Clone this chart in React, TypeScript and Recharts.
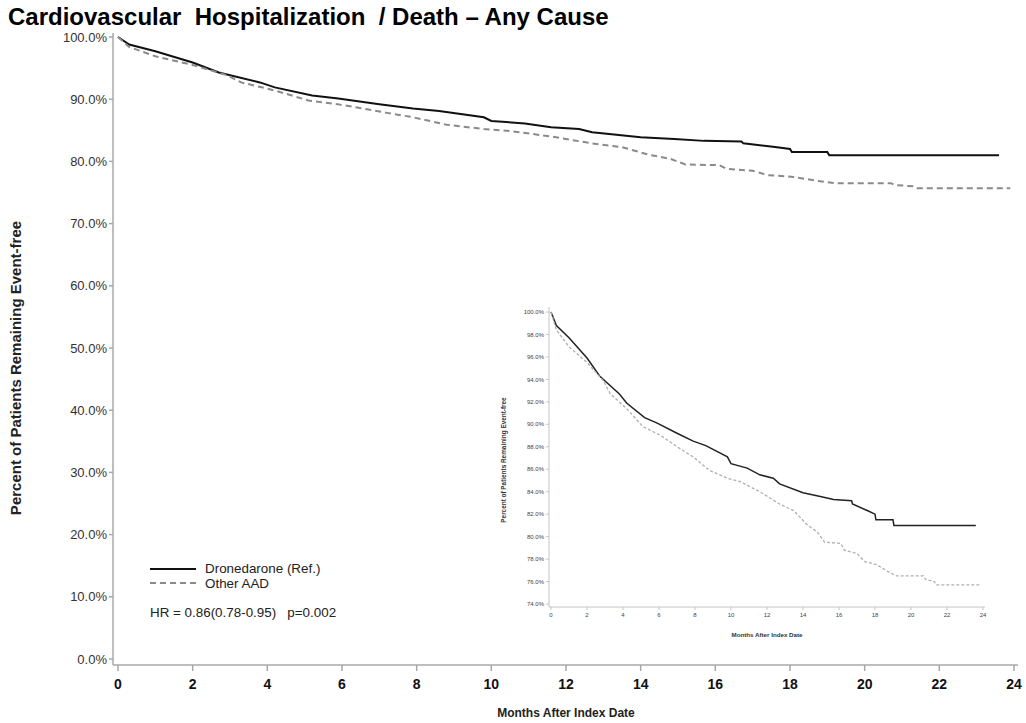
import React from "react";
import { LineChart, Line, XAxis, YAxis } from "recharts";

// Kaplan-Meier readings (months after index date, % event-free)
const dronMonths = [0, 0.3, 1.0, 2.0, 2.7, 3.8, 4.2, 5.2, 5.9, 7.0, 7.9, 8.6, 9.8, 10.0, 10.9, 11.6, 12.35, 12.7, 14.0, 14.9, 15.7, 16.7, 16.75, 17.6, 18.0, 18.05, 19.0, 19.05, 23.6];
const dronPct = [100, 98.8, 97.7, 95.9, 94.3, 92.7, 91.9, 90.6, 90.1, 89.2, 88.5, 88.1, 87.1, 86.5, 86.1, 85.5, 85.2, 84.7, 83.9, 83.6, 83.3, 83.2, 82.9, 82.3, 82.0, 81.5, 81.5, 81.0, 81.0];

const otherMonths = [0, 0.3, 1.0, 2.0, 2.9, 3.3, 4.2, 5.1, 6.1, 7.2, 7.9, 8.8, 9.8, 10.5, 11.6, 12.7, 13.5, 14.2, 14.8, 15.2, 16.1, 16.3, 17.0, 17.4, 18.1, 18.7, 19.2, 20.7, 20.8, 21.3, 21.4, 23.9];
const otherPct = [100, 98.4, 96.9, 95.5, 93.9, 92.7, 91.4, 89.8, 89.0, 87.8, 87.1, 85.9, 85.2, 84.9, 84.0, 82.9, 82.3, 81.1, 80.4, 79.5, 79.4, 78.8, 78.5, 77.8, 77.5, 76.9, 76.5, 76.5, 76.2, 76.0, 75.7, 75.7];

const monthTicks = [0, 2, 4, 6, 8, 10, 12, 14, 16, 18, 20, 22, 24];
const mainPctTicks = [0, 10, 20, 30, 40, 50, 60, 70, 80, 90, 100];
const insetPctTicks = [74, 76, 78, 80, 82, 84, 86, 88, 90, 92, 94, 96, 98, 100];

const toRows = (ms: number[], ps: number[]) => ms.map((m, i) => ({ m, v: ps[i] }));
const dronData = toRows(dronMonths, dronPct);
const otherData = toRows(otherMonths, otherPct);

const FONT = "'Liberation Sans', Arial, sans-serif";
const FRAME = "#a8a8a8";
const pct = (v: number) => `${v.toFixed(1)}%`;

function MainChart() {
  return (
    <LineChart
      width={1026}
      height={723}
      margin={{ top: 33, right: 8, bottom: 18, left: 53 }}
      style={{ position: "absolute", left: 0, top: 0 }}
    >
      <XAxis
        dataKey="m"
        type="number"
        domain={[0, 24]}
        ticks={monthTicks}
        padding={{ left: 5, right: 4 }}
        height={40}
        stroke={FRAME}
        strokeWidth={1.5}
        tickSize={6}
        tickMargin={8}
        tick={{ fill: "#111", fontSize: 14, fontWeight: 700, fontFamily: FONT }}
      />
      <XAxis xAxisId="top" orientation="top" type="number" domain={[0, 24]} height={0} tick={false} tickLine={false} stroke={FRAME} strokeWidth={1.5} />
      <YAxis
        type="number"
        domain={[0, 100]}
        ticks={mainPctTicks}
        padding={{ top: 4, bottom: 6 }}
        width={60}
        stroke={FRAME}
        strokeWidth={1.5}
        tickSize={4}
        tickMargin={2}
        tickFormatter={pct}
        tick={{ fill: "#333", fontSize: 13, fontFamily: FONT }}
      />
      <YAxis yAxisId="right" orientation="right" type="number" domain={[0, 100]} width={0} tick={false} tickLine={false} stroke={FRAME} strokeWidth={1.5} />
      <Line data={dronData} dataKey="v" type="linear" stroke="#111" strokeWidth={2} dot={false} isAnimationActive={false} />
      <Line data={otherData} dataKey="v" type="linear" stroke="#8a8a8a" strokeWidth={2} strokeDasharray="6 4" dot={false} isAnimationActive={false} />
    </LineChart>
  );
}

function InsetChart() {
  // frame: left 549, top 307, right 985, bottom 612
  return (
    <LineChart
      width={510}
      height={345}
      margin={{ top: 12, right: 15, bottom: 13, left: 19 }}
      style={{ position: "absolute", left: 490, top: 295 }}
    >
      <XAxis
        dataKey="m"
        type="number"
        domain={[0, 24]}
        ticks={monthTicks}
        padding={{ left: 2, right: 2 }}
        height={20}
        stroke="#c4c4c4"
        tickSize={3}
        tickMargin={3}
        tick={{ fill: "#444", fontSize: 6, fontFamily: FONT }}
      />
      <XAxis xAxisId="top" orientation="top" type="number" domain={[0, 24]} height={0} tick={false} tickLine={false} stroke="#d0d0d0" />
      <YAxis
        type="number"
        domain={[74, 100]}
        ticks={insetPctTicks}
        padding={{ top: 5, bottom: 3 }}
        width={40}
        stroke="#c4c4c4"
        tickSize={3}
        tickMargin={2}
        tickFormatter={pct}
        tick={{ fill: "#444", fontSize: 6, fontFamily: FONT }}
      />
      <YAxis yAxisId="right" orientation="right" type="number" domain={[74, 100]} width={0} tick={false} tickLine={false} stroke="#c4c4c4" />
      <Line data={dronData} dataKey="v" type="linear" stroke="#222" strokeWidth={1.5} dot={false} isAnimationActive={false} />
      <Line data={otherData} dataKey="v" type="linear" stroke="#b0b0b0" strokeWidth={1.3} strokeDasharray="3 2" dot={false} isAnimationActive={false} />
    </LineChart>
  );
}

export default function App() {
  return (
    <div style={{ position: "absolute", left: 0, top: 0, width: 1026, height: 723, background: "#fff", fontFamily: FONT, overflow: "hidden" }}>
      <div style={{ position: "absolute", left: 8, top: 3, fontSize: 24, lineHeight: "28px", fontWeight: 700, color: "#000", whiteSpace: "pre" }}>
        {"Cardiovascular  Hospitalization  / Death \u2013 Any Cause"}
      </div>
      <MainChart />
      <InsetChart />
      {/* main axis titles */}
      <div style={{ position: "absolute", left: 15, top: 368, transform: "translate(-50%, -50%) rotate(-90deg)", fontSize: 15, fontWeight: 700, color: "#222", whiteSpace: "nowrap" }}>
        Percent of Patients Remaining Event-free
      </div>
      <div style={{ position: "absolute", left: 566, top: 713, transform: "translate(-50%, -50%)", fontSize: 12, fontWeight: 700, color: "#222", whiteSpace: "nowrap" }}>
        Months After Index Date
      </div>
      {/* inset axis titles */}
      <div style={{ position: "absolute", left: 503, top: 460, transform: "translate(-50%, -50%) rotate(-90deg)", fontSize: 6.4, fontWeight: 700, color: "#333", whiteSpace: "nowrap" }}>
        Percent of Patients Remaining Event-free
      </div>
      <div style={{ position: "absolute", left: 767, top: 634, transform: "translate(-50%, -50%)", fontSize: 6.2, fontWeight: 700, color: "#333", whiteSpace: "nowrap" }}>
        Months After Index Date
      </div>
      {/* legend */}
      <svg style={{ position: "absolute", left: 148, top: 560 }} width={52} height={30}>
        <line x1={2} y1={9} x2={48} y2={9} stroke="#111" strokeWidth={2} />
        <line x1={2} y1={23} x2={48} y2={23} stroke="#8a8a8a" strokeWidth={2} strokeDasharray="6 4" />
      </svg>
      <div style={{ position: "absolute", left: 205, top: 561, fontSize: 13.4, color: "#222", lineHeight: "15px" }}>
        <div>Dronedarone (Ref.)</div>
        <div>Other AAD</div>
      </div>
      <div style={{ position: "absolute", left: 150, top: 605, fontSize: 13.4, color: "#222", whiteSpace: "pre" }}>
        {"HR = 0.86(0.78-0.95)   p=0.002"}
      </div>
    </div>
  );
}
